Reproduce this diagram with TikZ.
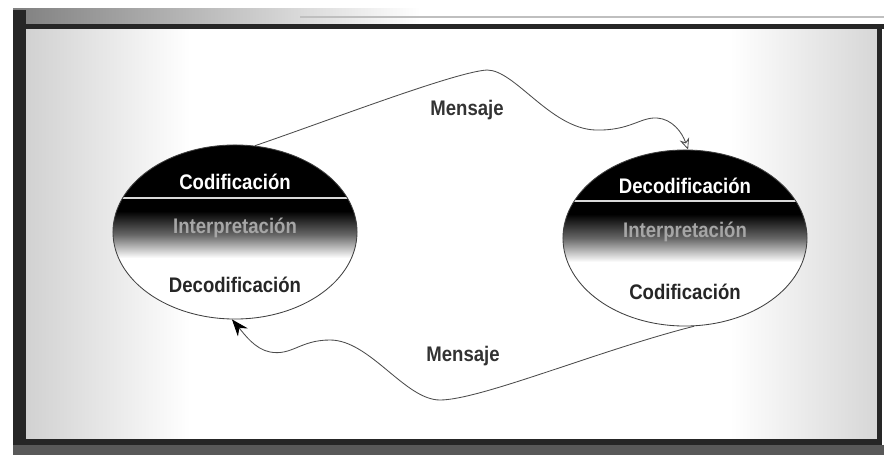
\documentclass[tikz,border=0pt]{standalone}
\usepackage{fontspec}
\setmainfont{Liberation Sans}[FakeStretch=0.88]
\usetikzlibrary{shapes.geometric,arrows.meta}
\begin{document}
\begin{tikzpicture}[x=0.025cm,y=-0.025cm,
  txt/.style={font=\fontsize{15}{18}\selectfont\bfseries, inner sep=0},
  oval/.style={ellipse, draw=black!75, line width=0.6pt, minimum width=6.1cm, minimum height=4.35cm, inner sep=0},
  msg/.style={draw=black!70, line width=0.6pt},
  frameline/.style={fill=black!85}
]
\useasboundingbox (0,0) rectangle (884,455);
\fill[white] (0,0) rectangle (884,455);
% frame
\shade[left color=black!50, right color=white] (13,8) rectangle (420,24);
\draw[black!25, line width=0.8pt] (300,17) -- (884,17);
\fill[black!15] (26,29) rectangle (878,440);
\shade[left color=black!18, right color=white] (26,29) rectangle (190,440);
\fill[white] (190,29) rectangle (730,440);
\shade[left color=white, right color=black!16] (730,29) rectangle (878,440);
\fill[frameline] (13,10) rectangle (26,455);
\fill[frameline] (13,24) rectangle (884,29);
\fill[frameline] (877,24) rectangle (882,445);
\fill[frameline] (13,439) rectangle (882,445);
\fill[black!65] (13,445) rectangle (884,455);
% left oval filling
\begin{scope}
\clip (235,232) ellipse [x radius=3.05cm, y radius=2.175cm];
\fill[white] (100,130) rectangle (370,330);
\fill[black] (100,130) rectangle (370,212);
\shade[top color=black, bottom color=white, middle color=black!60] (100,211) rectangle (370,258);
\draw[white!85!black, line width=1.2pt] (100,198) -- (370,198);
\end{scope}
% right oval filling
\begin{scope}
\clip (685,238) ellipse [x radius=3.05cm, y radius=2.2cm];
\fill[white] (550,130) rectangle (820,340);
\fill[black] (550,130) rectangle (820,215);
\shade[top color=black, bottom color=white, middle color=black!60] (550,214) rectangle (820,262);
\draw[white!85!black, line width=1.2pt] (550,201) -- (820,201);
\end{scope}
\node[oval] (L) at (235,232) {};
\node[oval, minimum height=4.4cm] (R) at (685,238) {};
% texts
\node[txt, text=white] (l1) at (235,182) {Codificación};
\node[txt, text=black!35] (l2) at (235,228) {Interpretación};
\node[txt, text=black!85] (l3) at (235,285) {Decodificación};
\node[txt, text=white] (r1) at (685,186) {Decodificación};
\node[txt, text=black!35] (r2) at (685,232) {Interpretación};
\node[txt, text=black!85] (r3) at (685,292) {Codificación};
\node[txt, text=black!80] (m1) at (467,110) {Mensaje};
\node[txt, text=black!80] (m2) at (463,356) {Mensaje};
% connectors
\draw[msg, -{Stealth[open, length=8pt, width=7pt]}] (L.77) .. controls (330,120) and (455,72) .. (487,70)
  .. controls (515,70) and (550,128) .. (595,130)
  .. controls (630,131) and (640,117) .. (657,118)
  .. controls (672,119) and (682,132) .. (R.88);
\draw[msg, -{Stealth[length=12pt, width=9pt, color=black, fill=black]}] (R.-84) .. controls (600,350) and (480,400) .. (440,400)
  .. controls (405,400) and (370,340) .. (330,340)
  .. controls (300,340) and (292,356) .. (270,352)
  .. controls (255,349) and (245,335) .. (L.-92);
\end{tikzpicture}
\end{document}
